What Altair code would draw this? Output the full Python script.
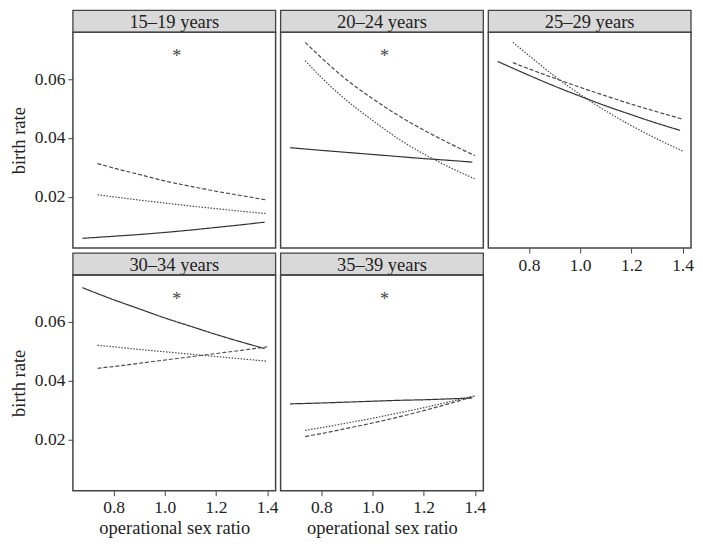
import altair as alt
import pandas as pd

# ---- data ----
age_groups = ["15–19 years", "20–24 years", "25–29 years", "30–34 years", "35–39 years"]
line_types = ["solid", "dashed", "dotted"]
starred = [True, True, False, True, True]

osr_solid = [0.678, 0.8, 0.9, 1.0, 1.1, 1.2, 1.3, 1.39]
osr_other = [0.737, 0.8, 0.9, 1.0, 1.1, 1.2, 1.3, 1.40]

solid_15_19 = [0.0059, 0.0066, 0.0072, 0.0079, 0.0087, 0.0096, 0.0105, 0.0114]
dashed_15_19 = [0.0313, 0.0298, 0.0276, 0.0254, 0.0236, 0.0219, 0.0204, 0.0189]
dotted_15_19 = [0.0207, 0.0200, 0.0189, 0.0179, 0.0169, 0.0160, 0.0151, 0.0143]

solid_20_24 = [0.0367, 0.0358, 0.0351, 0.0344, 0.0337, 0.0330, 0.0324, 0.0318]
dashed_20_24 = [0.0725, 0.0673, 0.0597, 0.0534, 0.0477, 0.0427, 0.0382, 0.0340]
dotted_20_24 = [0.0663, 0.0606, 0.0527, 0.0460, 0.0398, 0.0346, 0.0301, 0.0261]

solid_25_29 = [0.0660, 0.0613, 0.0576, 0.0542, 0.0509, 0.0479, 0.0450, 0.0426]
dashed_25_29 = [0.0656, 0.0635, 0.0603, 0.0572, 0.0543, 0.0515, 0.0489, 0.0464]
dotted_25_29 = [0.0725, 0.0680, 0.0610, 0.0548, 0.0492, 0.0442, 0.0397, 0.0356]

solid_30_34 = [0.0716, 0.0675, 0.0644, 0.0613, 0.0585, 0.0557, 0.0531, 0.0509]
dashed_30_34 = [0.0442, 0.0448, 0.0459, 0.0470, 0.0481, 0.0492, 0.0503, 0.0515]
dotted_30_34 = [0.0520, 0.0515, 0.0506, 0.0498, 0.0490, 0.0482, 0.0474, 0.0466]

solid_35_39 = [0.0321, 0.0324, 0.0327, 0.0330, 0.0333, 0.0335, 0.0338, 0.0341]
dashed_35_39 = [0.0210, 0.0220, 0.0238, 0.0256, 0.0276, 0.0298, 0.0322, 0.0347]
dotted_35_39 = [0.0231, 0.0240, 0.0256, 0.0272, 0.0290, 0.0308, 0.0328, 0.0349]

rates = [
    {"solid": solid_15_19, "dashed": dashed_15_19, "dotted": dotted_15_19},
    {"solid": solid_20_24, "dashed": dashed_20_24, "dotted": dotted_20_24},
    {"solid": solid_25_29, "dashed": dashed_25_29, "dotted": dotted_25_29},
    {"solid": solid_30_34, "dashed": dashed_30_34, "dotted": dotted_30_34},
    {"solid": solid_35_39, "dashed": dashed_35_39, "dotted": dotted_35_39},
]

star_x = [1.047]
star_y = [0.0684]

x_ticks = [0.8, 1.0, 1.2, 1.4]
y_ticks = [0.02, 0.04, 0.06]
X_DOMAIN = [0.641, 1.433]
Y_DOMAIN = [0.0026, 0.0759]

FONT = "Liberation Serif"
W, H = 203, 216
HDR = 22


def lines_df(i):
    rows = []
    for t in line_types:
        xs = osr_solid if t == "solid" else osr_other
        for x, y in zip(xs, rates[i][t]):
            rows.append({"osr": x, "rate": y, "type": t})
    return pd.DataFrame(rows)


def panel(i, show_y, show_x, x_title):
    xscale = alt.Scale(domain=X_DOMAIN, nice=False, zero=False)
    yscale = alt.Scale(domain=Y_DOMAIN, nice=False, zero=False)
    if show_x:
        xenc = alt.X("osr:Q", scale=xscale,
                     axis=alt.Axis(values=x_ticks, format=".1f", title=x_title, titlePadding=2))
    else:
        xenc = alt.X("osr:Q", scale=xscale, axis=None)
    if show_y:
        yenc = alt.Y("rate:Q", scale=yscale,
                     axis=alt.Axis(values=y_ticks, format=".2f", title="birth rate", titlePadding=6))
    else:
        yenc = alt.Y("rate:Q", scale=yscale, axis=None)

    lines = alt.Chart(lines_df(i)).mark_line(strokeWidth=1.2, interpolate="monotone").encode(
        x=xenc,
        y=yenc,
        strokeDash=alt.StrokeDash("type:N", scale=alt.Scale(domain=line_types,
                                  range=[[1, 0], [4, 2], [1.5, 1.5]]), legend=None),
        color=alt.Color("type:N", scale=alt.Scale(domain=line_types,
                        range=["#333333", "#4a4a4a", "#4a4a4a"]), legend=None),
    )
    layers = [lines]
    if starred[i]:
        star = alt.Chart(pd.DataFrame({"osr": star_x, "rate": star_y})).mark_text(
            text="*", font=FONT, fontSize=18, color="#444", baseline="middle", dy=3
        ).encode(x=alt.X("osr:Q", scale=xscale), y=alt.Y("rate:Q", scale=yscale))
        layers.append(star)
    return alt.layer(*layers).properties(width=W, height=H)


def header(label, top):
    base = alt.Chart(pd.DataFrame({"label": [label]}))
    rect = base.mark_rect(fill="#d9d9d9", stroke="#444", strokeWidth=1.3).encode(
        x=alt.value(0), x2=alt.value(W), y=alt.value(top), y2=alt.value(top + HDR))
    text = base.mark_text(font=FONT, fontSize=18.5, color="#222", baseline="middle").encode(
        x=alt.value(W / 2), y=alt.value(top + HDR / 2 + 1), text="label:N")
    return alt.layer(rect, text).properties(
        width=W, height=top + HDR, view=alt.ViewBackground(stroke="transparent"))


def blank(height):
    return alt.Chart(pd.DataFrame({"a": [0]})).mark_rect(opacity=0).encode(
        x=alt.value(0), x2=alt.value(1), y=alt.value(0), y2=alt.value(1)
    ).properties(width=W, height=height, view=alt.ViewBackground(stroke="transparent"))


cells = [
    header(age_groups[0], 0), header(age_groups[1], 0), header(age_groups[2], 0),
    panel(0, True, False, ""), panel(1, False, False, ""), panel(2, False, True, ""),
    header(age_groups[3], 5), header(age_groups[4], 5), blank(5 + HDR),
    panel(3, True, True, "operational sex ratio"), panel(4, False, True, "operational sex ratio"),
]

chart = alt.concat(
    *cells, columns=3, spacing={"row": 0, "column": 5}, bounds="flush", align="each"
).properties(
    padding={"left": 0, "top": 0, "right": 0, "bottom": 0}
).configure_view(
    stroke="#444", strokeWidth=1.5
).configure_axis(
    labelFont=FONT, titleFont=FONT, labelFontSize=17.5, titleFontSize=18.5,
    titleFontWeight="normal", labelColor="#222", titleColor="#222",
    tickColor="#444", tickSize=5, tickWidth=1, domain=False, grid=False, labelPadding=3,
)

chart.save("out.html", embed_options={"renderer": "svg", "actions": False})
